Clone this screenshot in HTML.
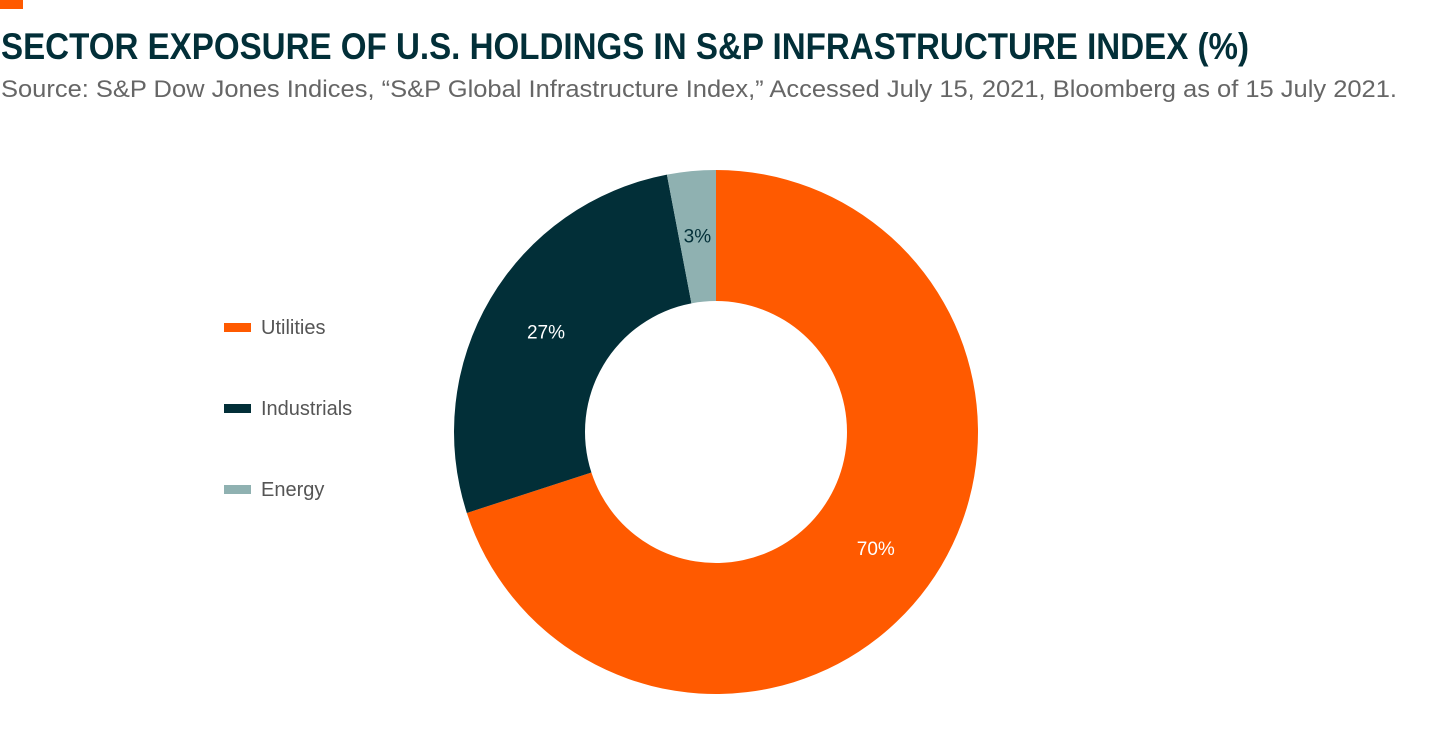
<!DOCTYPE html>
<html><head><meta charset="utf-8"><style>
html,body{margin:0;padding:0;background:#fff;}
svg{display:block;font-family:"Liberation Sans",sans-serif;}
</style></head><body>
<svg id="chart" width="1430" height="749" viewBox="0 0 1430 749">
<rect x="0" y="0" width="23" height="9" fill="#ff5a00"/>
<text x="1" y="59" font-size="37" font-weight="bold" fill="#022f38" textLength="1248" lengthAdjust="spacingAndGlyphs">SECTOR EXPOSURE OF U.S. HOLDINGS IN S&amp;P INFRASTRUCTURE INDEX (%)</text>
<text x="1" y="97" font-size="24" fill="#666" textLength="1396" lengthAdjust="spacingAndGlyphs">Source: S&amp;P Dow Jones Indices, “S&amp;P Global Infrastructure Index,” Accessed July 15, 2021, Bloomberg as of 15 July 2021.</text>
<g id="slices"></g>
<g id="legend"></g>
</svg>
<script>
const categories = ["Utilities", "Industrials", "Energy"];
const values = [70, 27, 3];
const labels = ["70%", "27%", "3%"];
const colors = ["#ff5a00", "#022f38", "#8fb1b1"];
const labelColors = ["#fff", "#fff", "#022f38"];
const NS = "http://www.w3.org/2000/svg";
const cx = 716, cy = 432, R = 262, r = 131;
const total = values.reduce((a, b) => a + b, 0);
const slices = document.getElementById("slices");
function pt(rad, a) { return [cx + rad * Math.sin(a), cy - rad * Math.cos(a)]; }
let start = 0;
values.forEach((v, i) => {
  const end = start + v / total * Math.PI * 2;
  const large = end - start > Math.PI ? 1 : 0;
  const [x1, y1] = pt(R, start), [x2, y2] = pt(R, end), [x3, y3] = pt(r, end), [x4, y4] = pt(r, start);
  const p = document.createElementNS(NS, "path");
  p.setAttribute("d", `M${x1},${y1} A${R},${R} 0 ${large} 1 ${x2},${y2} L${x3},${y3} A${r},${r} 0 ${large} 0 ${x4},${y4} Z`);
  p.setAttribute("fill", colors[i]);
  
  
  slices.appendChild(p);
  const mid = (start + end) / 2;
  const [lx, ly] = pt((R + r) / 2 + 1, mid);
  const t = document.createElementNS(NS, "text");
  t.setAttribute("x", lx); t.setAttribute("y", ly + 7);
  t.setAttribute("text-anchor", "middle");
  t.setAttribute("font-size", "19");
  t.setAttribute("fill", labelColors[i]);
  t.textContent = labels[i];
  
  
  slices.appendChild(t);
  start = end;
});
const legend = document.getElementById("legend");
categories.forEach((c, i) => {
  const y = 327 + i * 81;
  const s = document.createElementNS(NS, "rect");
  s.setAttribute("x", 224); s.setAttribute("y", y - 4);
  s.setAttribute("width", 27); s.setAttribute("height", 9);
  s.setAttribute("fill", colors[i]);
  
  
  legend.appendChild(s);
  const t = document.createElementNS(NS, "text");
  t.setAttribute("x", 261); t.setAttribute("y", y + 7);
  t.setAttribute("font-size", "20");
  t.setAttribute("fill", "#555");
  t.textContent = c;
  
  
  legend.appendChild(t);
});
</script>
</body></html>
